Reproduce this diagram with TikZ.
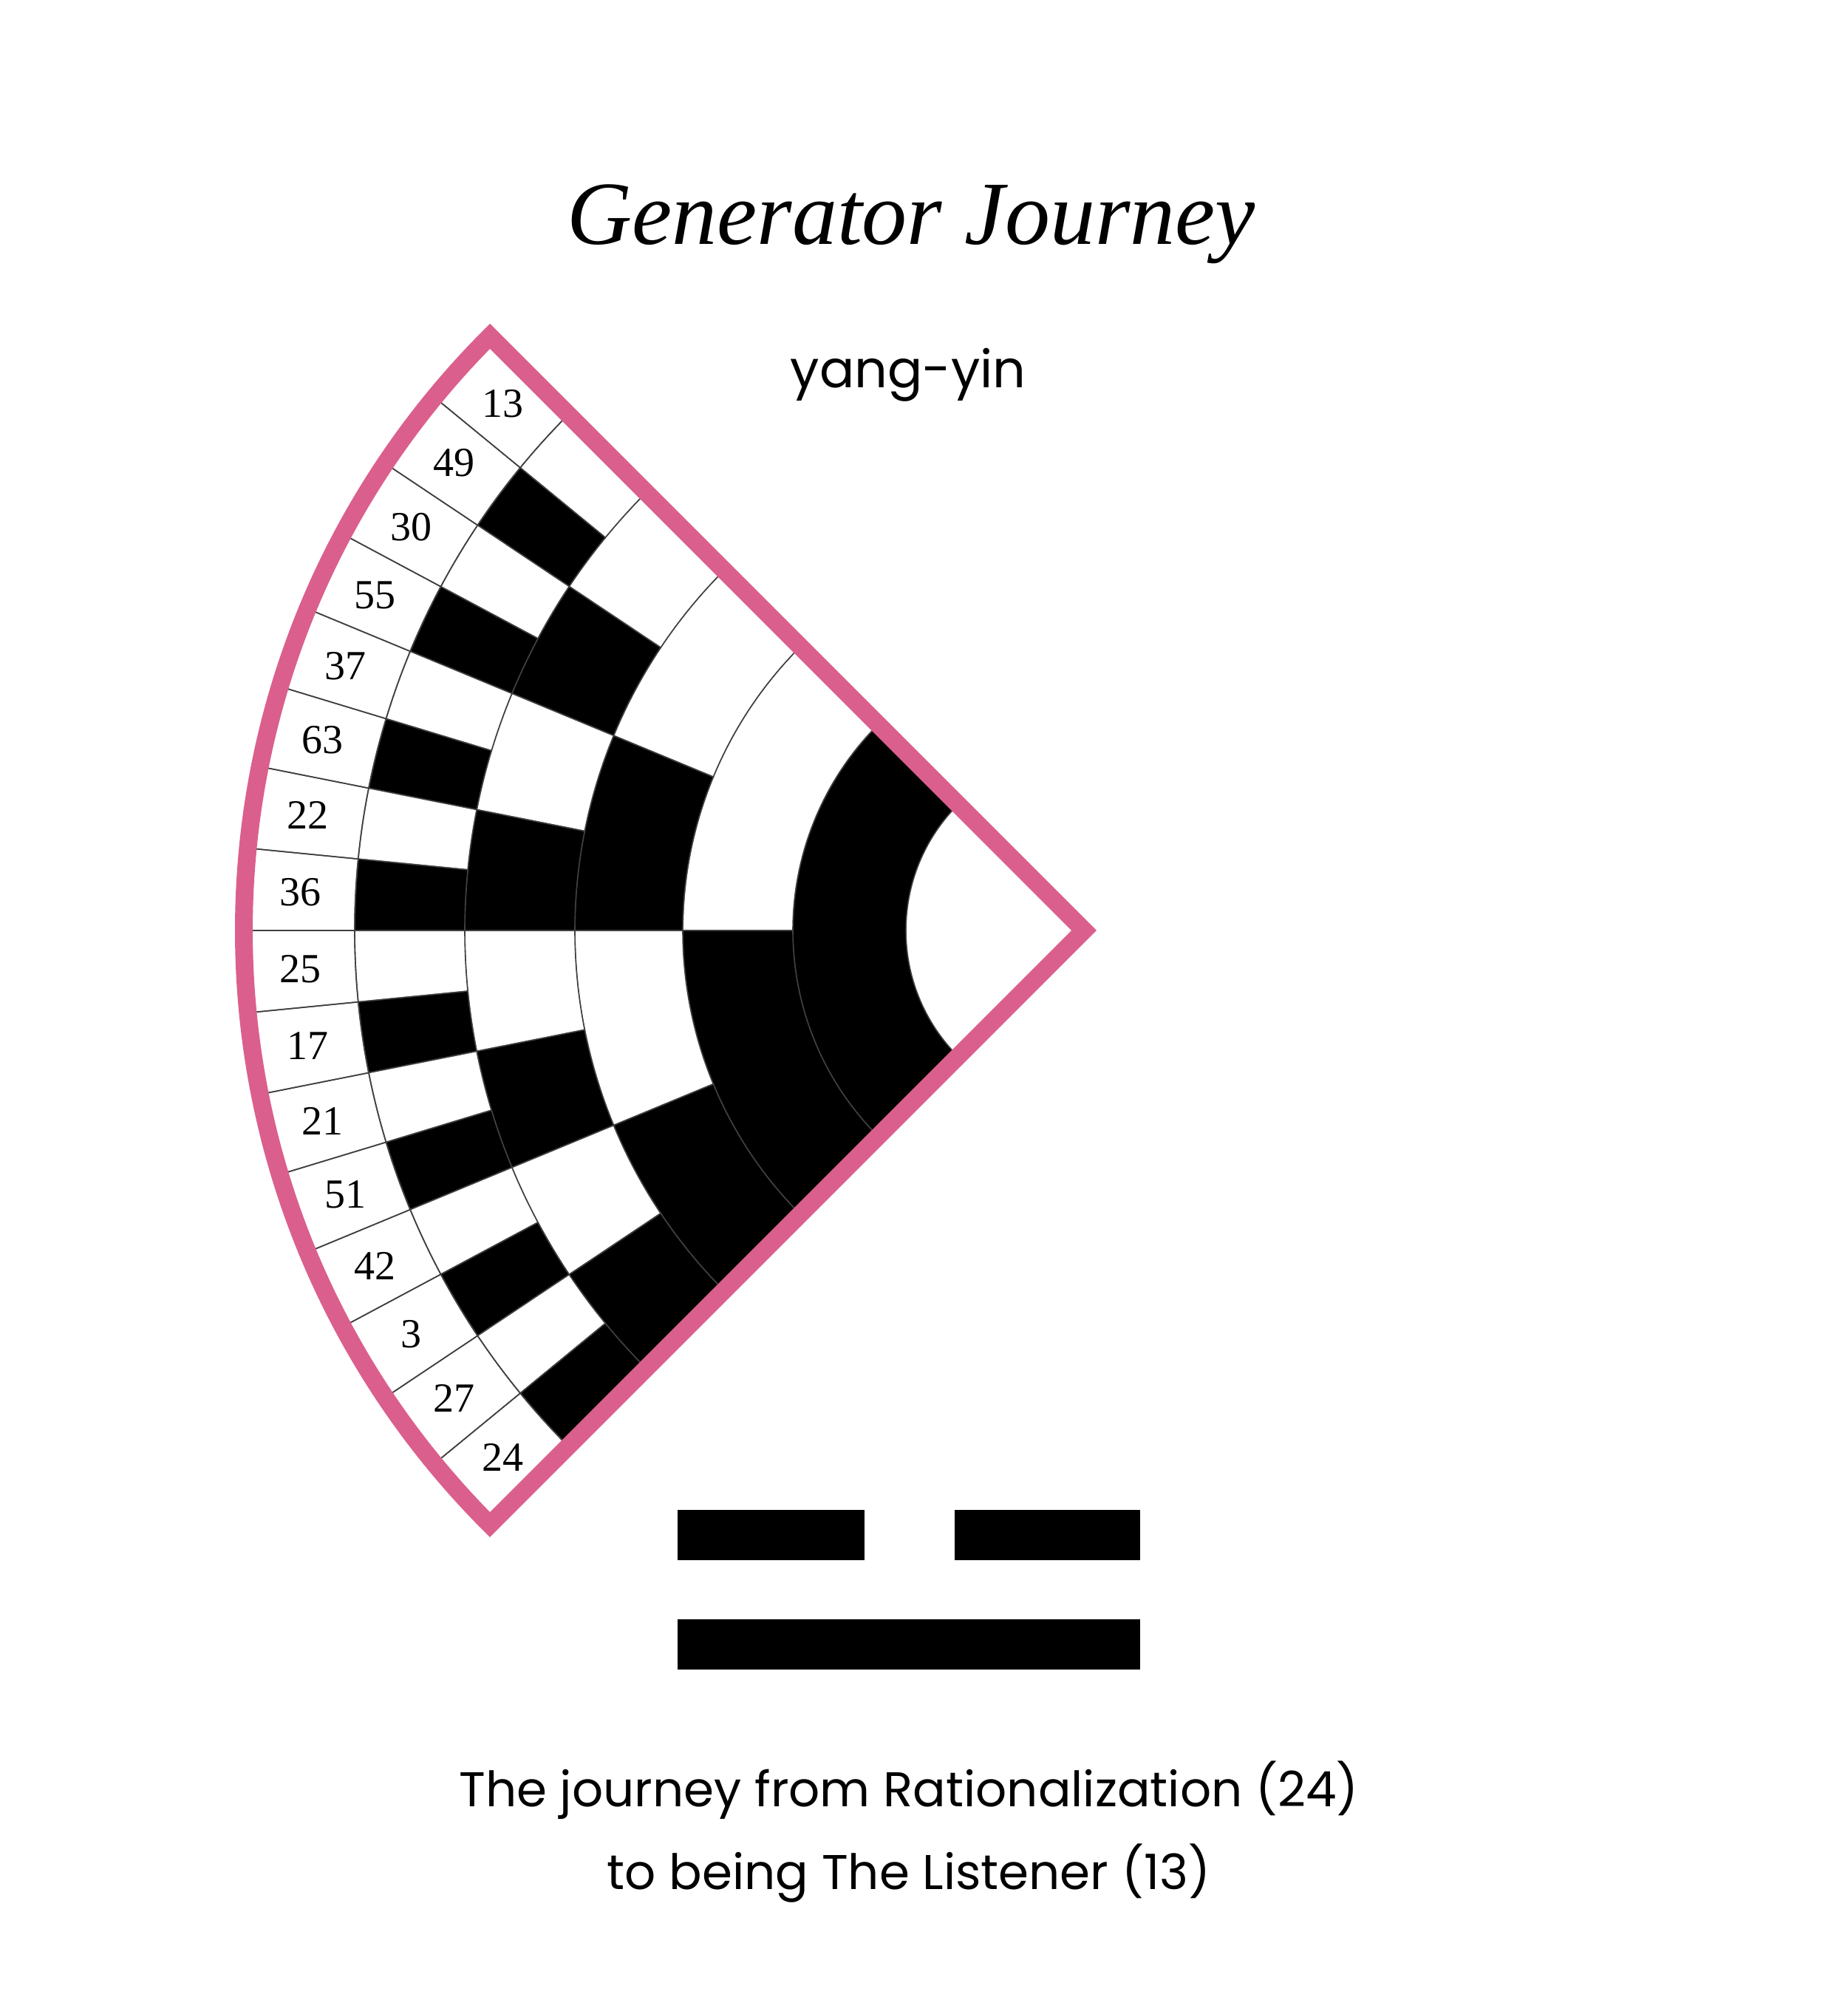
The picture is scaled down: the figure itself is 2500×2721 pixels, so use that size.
\documentclass[tikz,border=0pt]{standalone}
\usepackage{fontspec}
\setmainfont{Liberation Serif}
\newfontfamily\pop{Poppins}
\definecolor{fanpink}{RGB}{219,95,140}
\begin{document}
\begin{tikzpicture}[x=1pt,y=1pt,
  cell/.style={draw=black!75,line width=1.6pt},
  lbl/.style={font=\fontsize{56}{60}\selectfont},
  bar/.style={fill=black}]
\useasboundingbox (0,0) rectangle (2500,2721);
\fill[white] (0,0) rectangle (2500,2721);
\node (title) at (1233,2418) {\fontsize{122}{130}\selectfont\itshape Generator Journey};
\node (yy) at (1229,2214) {\pop\fontsize{70}{80}\selectfont yang-yin};
\begin{scope}[shift={(1467,1462)}]
  % rings
  \foreach \k/\n/\ra/\rb in {1/1/241/394,2/2/394/543,3/4/543/689,4/8/689/838,5/16/838/987}{
    \pgfmathtruncatemacro{\last}{\n-1}
    \foreach \i in {0,...,\last}{
      \pgfmathsetmacro{\aa}{135+\i*90/\n}
      \pgfmathsetmacro{\ab}{135+(\i+1)*90/\n}
      \pgfmathtruncatemacro{\isb}{(\n==1) || (mod(\i,2)==1)}
      \ifnum\isb=1 \def\fc{black}\else\def\fc{white}\fi
      \filldraw[cell,fill=\fc] (\aa:\ra) arc[start angle=\aa,end angle=\ab,radius=\ra]
        -- (\ab:\rb) arc[start angle=\ab,end angle=\aa,radius=\rb] -- cycle;
    }
  }
  % label ring
  \foreach \t [count=\c from 0] in {13,49,30,55,37,63,22,36,25,17,21,51,42,3,27,24}{
    \pgfmathsetmacro{\aa}{135+\c*5.625}
    \pgfmathsetmacro{\ab}{135+(\c+1)*5.625}
    \pgfmathsetmacro{\am}{135+(\c+0.5)*5.625}
    \draw[cell] (\aa:987) arc[start angle=\aa,end angle=\ab,radius=987] -- (\ab:1137);
    \draw[cell] (\aa:987) -- (\aa:1137);
    \node[lbl] (l\c) at (\am:1062) {\t};
  }
  \draw[fanpink,line width=24pt,line join=miter] (0,0) -- (135:1137)
    arc[start angle=135,end angle=225,radius=1137] -- cycle;
\end{scope}
\fill[bar] (917,610) rectangle (1170,678);
\fill[bar] (1292,610) rectangle (1543,678);
\fill[bar] (917,462) rectangle (1543,530);
\node (t1) at (1230,299) {\pop\fontsize{66}{80}\selectfont The journey from Rationalization (24)};
\node (t2) at (1230,186) {\pop\fontsize{66}{80}\selectfont to being The Listener (13)};
\end{tikzpicture}
\end{document}
